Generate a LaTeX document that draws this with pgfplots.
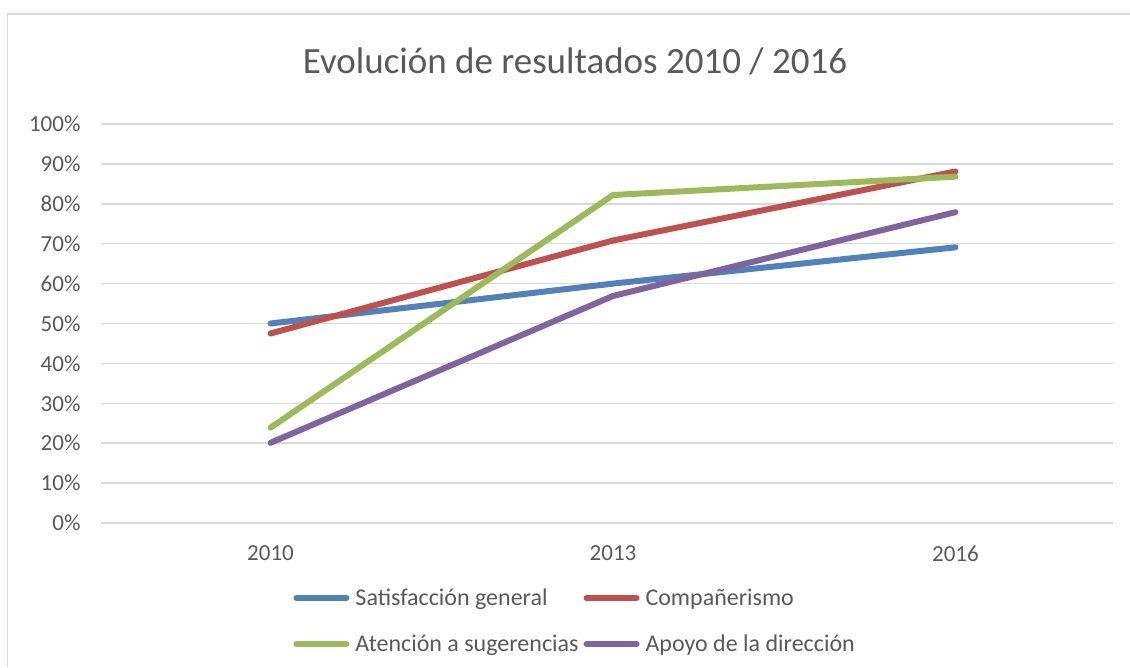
\documentclass[border=0pt]{standalone}
\usepackage{pgfplots}
\pgfplotsset{compat=1.18}
\usepackage{fontspec}
\setmainfont{Carlito}
\definecolor{txt}{HTML}{595959}
\definecolor{grd}{HTML}{D9D9D9}
\definecolor{cA}{HTML}{4F81BD}
\definecolor{cB}{HTML}{C0504D}
\definecolor{cC}{HTML}{9BBB59}
\definecolor{cD}{HTML}{8064A2}
\begin{document}
\begin{tikzpicture}[x=1pt,y=1pt]
\path[use as bounding box] (0,0) rectangle (1130,667);
\draw[grd, line width=1.5pt] (7.5,0) -- (7.5,653) -- (1130,653);
\node[txt, font=\fontsize{37}{42}\selectfont] at (575,606) {Evolución de resultados 2010 / 2016};
\begin{axis}[
  at={(101pt,144pt)}, anchor=south west,
  scale only axis, width=1012pt, height=399pt,
  xmin=-0.495, xmax=2.46, ymin=0, ymax=100,
  xtick={0,1,2}, xticklabels={2010,2013,2016},
  ytick={0,10,...,100},
  yticklabel={\pgfmathprintnumber{\tick}\%},
  /pgf/number format/assume math mode=true,
  axis line style={draw=none},
  major tick length=0pt,
  ymajorgrids, grid style={grd, line width=1.5pt},
  tick label style={txt, font=\fontsize{23}{27}\selectfont},
  yticklabel style={xshift=-17pt},
  xticklabel style={yshift=-19pt},
  legend columns=2,
  legend cell align=left,
  legend style={draw=none, fill=none, at={(0.19,-0.162)}, anchor=north west,
    font=\fontsize{24}{28}\selectfont, text=txt,
    nodes={inner sep=1pt},
    /tikz/every odd column/.append style={column sep=5pt},
    /tikz/every even column/.append style={column sep=4pt},
    row sep=26pt, inner sep=0pt},
  legend image code/.code={\draw[#1, line width=6pt, line cap=round] (0pt,0pt) -- (50pt,0pt);},
  every axis plot/.append style={line width=6pt, line cap=round, line join=round},
]
\addplot[cA] coordinates {(0,50.0) (1,60.0) (2,69.1)};
\addlegendentry{Satisfacción general}
\addplot[cB] coordinates {(0,47.5) (1,70.8) (2,88.1)};
\addlegendentry{Compañerismo}
\addplot[cC] coordinates {(0,23.9) (1,82.2) (2,86.8)};
\addlegendentry{Atención a sugerencias}
\addplot[cD] coordinates {(0,20.1) (1,56.9) (2,77.9)};
\addlegendentry{Apoyo de la dirección}
\end{axis}
\end{tikzpicture}
\end{document}
